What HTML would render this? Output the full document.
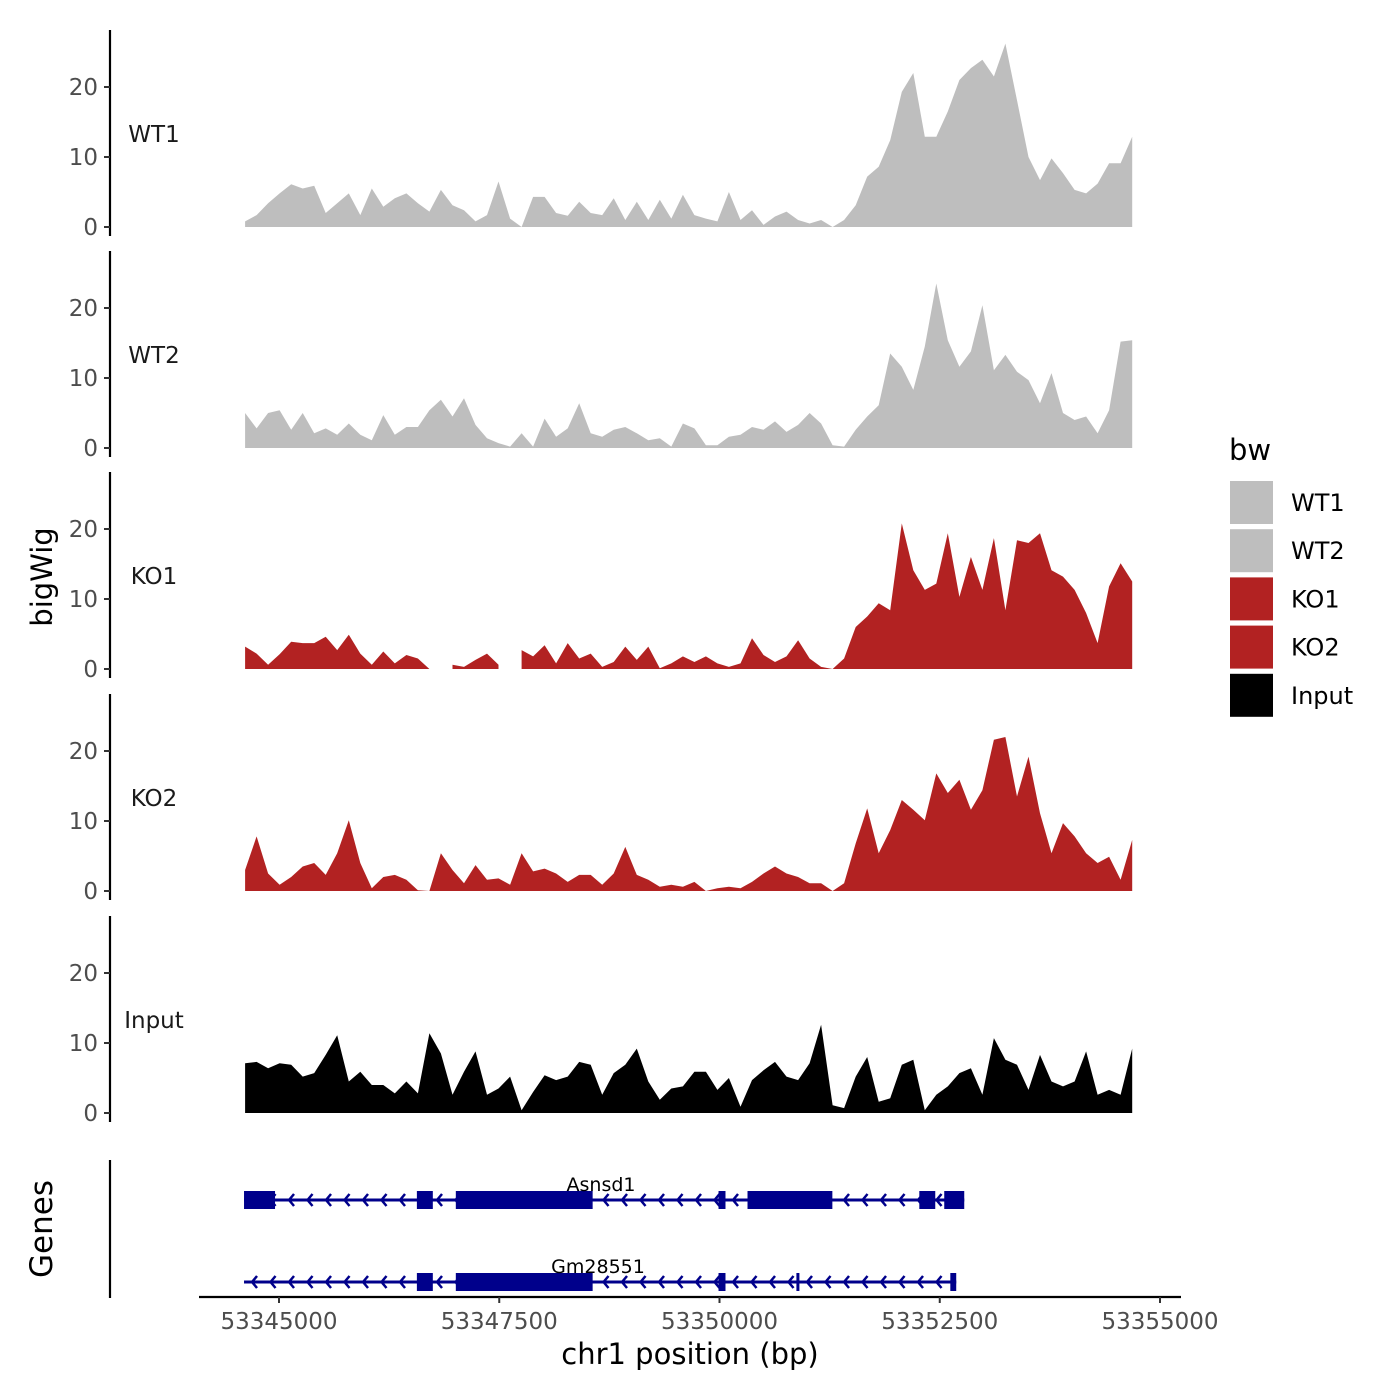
<!DOCTYPE html>
<html><head><meta charset="utf-8"><style>
body{margin:0;background:#fff;}
svg{display:block;font-family:"DejaVu Sans","Liberation Sans",sans-serif;}
</style></head><body>
<svg id="chart" width="1400" height="1400"></svg>
<script>
const trackNames=["WT1","WT2","KO1","KO2","Input"];
const trackColors=["#bebebe","#bebebe","#b22222","#b22222","#000000"];
const startBp=53344615, endBp=53354684;
const wt1=[0.8,1.7,3.4,4.8,6.1,5.5,5.9,2,3.4,4.8,1.7,5.5,2.9,4.1,4.8,3.4,2.2,5.3,3.1,2.4,0.8,1.7,6.5,1.2,0,4.3,4.3,2,1.6,3.6,2,1.7,4.1,1,3.6,1,3.9,1.2,4.6,1.7,1.2,0.8,5,1,2.4,0.3,1.5,2.2,1,0.5,1,0,1,3.1,7.2,8.6,12.4,19.3,22,12.9,12.9,16.5,21,22.7,23.9,21.5,26.2,18.1,10,6.7,9.8,7.7,5.3,4.8,6.2,9.1,9.1,12.9];
const wt2=[5,2.8,5,5.4,2.6,5,2.1,2.8,1.9,3.5,1.9,1.1,4.7,1.9,3,3,5.4,6.9,4.5,7.1,3.3,1.4,0.7,0.2,2.1,0.2,4.2,1.6,2.8,6.4,2.1,1.6,2.6,3,2.1,1.1,1.4,0.2,3.5,2.8,0.4,0.4,1.6,1.9,3,2.6,3.8,2.3,3.3,5,3.5,0.4,0.2,2.6,4.5,6.1,13.5,11.6,8.3,14.5,23.5,15.4,11.6,13.8,20.4,11.1,13.3,10.9,9.7,6.4,10.7,5,4,4.5,2.1,5.4,15.2,15.4];
const ko1=[3.2,2.2,0.6,2.1,3.9,3.7,3.7,4.6,2.7,4.9,2.2,0.6,2.5,0.8,2,1.5,0,null,0.6,0.3,1.3,2.2,0.6,null,2.7,1.8,3.4,0.8,3.7,1.5,2.2,0.3,1,3.2,1.3,3.2,0.1,0.8,1.8,1,1.8,0.8,0.3,0.8,4.4,2,1,1.8,4.1,1.5,0.3,0,1.5,6,7.5,9.4,8.4,20.8,14.1,11.3,12.2,19.4,10.3,16,11.3,18.7,8.4,18.4,18,19.4,14.1,13.2,11.3,8,3.7,11.8,15.1,12.5];
const ko2=[3,7.8,2.5,0.9,2,3.5,4,2.3,5.4,10.1,4,0.4,2,2.3,1.6,0.1,0,5.4,3,1.1,3.7,1.6,1.8,0.9,5.4,2.8,3.2,2.5,1.3,2.3,2.3,0.9,2.5,6.3,2.3,1.6,0.6,0.9,0.6,1.3,0,0.4,0.6,0.4,1.3,2.5,3.5,2.5,2,1.1,1.1,0,1.1,6.8,11.8,5.4,8.7,13,11.6,10.1,16.8,14,15.9,11.6,14.4,21.6,22,13.5,19.2,11.1,5.4,9.7,7.8,5.4,4,4.9,1.6,7.3];
const input=[7.1,7.3,6.4,7.1,6.9,5.2,5.7,8.3,11.1,4.5,5.9,4,4,2.8,4.5,2.8,11.4,8.5,2.6,5.9,8.8,2.6,3.5,5.2,0.4,3,5.4,4.7,5.2,7.3,6.9,2.6,5.7,6.9,9.2,4.5,1.9,3.5,3.8,5.9,5.9,3.3,5,0.9,4.7,6.1,7.3,5.2,4.7,7.1,12.6,1.1,0.7,5.2,8,1.6,2.1,6.9,7.6,0.4,2.6,3.8,5.7,6.4,2.6,10.7,7.6,6.9,3.3,8.3,4.5,3.8,4.5,8.8,2.6,3.3,2.6,9.2];
const series=[wt1,wt2,ko1,ko2,input];
const yTicks=[0,10,20];
const xTicks=[53345000,53347500,53350000,53352500,53355000];
const geneNames=["Asnsd1","Gm28551"];
const geneSpans=[[53344603,53352778],[53344603,53352687]];
const asnsd1Exons=[[53344603,53344955],[53346565,53346746],[53347007,53348560],[53349989,53350068],[53350318,53351281],[53350873,53350907],[53352268,53352449],[53352551,53352778]];
const gm28551Exons=[[53346565,53346746],[53347007,53348560],[53349989,53350068],[53350873,53350907],[53352620,53352687]];
const geneExons=[asnsd1Exons,gm28551Exons];

const NS="http://www.w3.org/2000/svg";
const svg=document.getElementById("chart");
function mk(tag,attrs,parent){const e=document.createElementNS(NS,tag);for(const k in attrs)e.setAttribute(k,attrs[k]);(parent||svg).appendChild(e);return e;}
const xs=bp=>279+(bp-53345000)*(881/10000);
const panelZero=[227,448,669,891,1113];
const ys=(p,v)=>panelZero[p]-v*7;
const step=(endBp-startBp)/(wt1.length-1);

for(let p=0;p<5;p++){
  const g=mk("g",{});
  
  
  const z=panelZero[p];
  const ax=mk("line",{x1:110,x2:110,y1:z-197,y2:z+9,stroke:"#000","stroke-width":2.2},g);
  
  
  yTicks.forEach(t=>{
    mk("line",{x1:104,x2:110,y1:ys(p,t),y2:ys(p,t),stroke:"#333","stroke-width":2},g);
    const tx=mk("text",{x:98,y:ys(p,t)+8,"text-anchor":"end","font-size":23,fill:"#4d4d4d"},g);
    tx.textContent=t;
    
    
  });
  const lb=mk("text",{x:154,y:z-85,"text-anchor":"middle","font-size":23,fill:"#1a1a1a"},g);
  lb.textContent=trackNames[p];
  
  
  const vals=series[p];
  let seg=[];
  const flush=()=>{
    if(seg.length>1){
      let d="M"+xs(seg[0][0]).toFixed(1)+","+z;
      seg.forEach(s=>{d+="L"+xs(s[0]).toFixed(1)+","+ys(p,s[1]).toFixed(1);});
      d+="L"+xs(seg[seg.length-1][0]).toFixed(1)+","+z+"Z";
      const a=mk("path",{d:d,fill:trackColors[p]},g);
      
      
    }
    seg=[];
  };
  vals.forEach((v,i)=>{if(v===null)flush();else seg.push([startBp+i*step,v]);});
  flush();
}

const gg=mk("g",{});


mk("line",{x1:110,x2:110,y1:1160,y2:1298,stroke:"#000","stroke-width":2.2},gg);
const geneY=[1200,1282];
geneNames.forEach((n,gi)=>{
  const y=geneY[gi];
  const s=geneSpans[gi];
  const gl=mk("line",{x1:xs(s[0]),x2:xs(s[1]),y1:y,y2:y,stroke:"#00008b","stroke-width":3},gg);
  
  
  for(let x=xs(s[0])+8;x<xs(s[1])-4;x+=18.5){
    mk("polyline",{points:(x+5)+","+(y-6)+" "+x+","+y+" "+(x+5)+","+(y+6),fill:"none",stroke:"#00008b","stroke-width":2.5},gg);
  }
  geneExons[gi].forEach(e=>{
    const r=mk("rect",{x:xs(e[0]),y:y-9,width:Math.max(3,xs(e[1])-xs(e[0])),height:18,fill:"#00008b"},gg);
    
    
  });
  const t=mk("text",{x:gi===0?601:598,y:y-9,"text-anchor":"middle","font-size":19,fill:"#000"},gg);
  t.textContent=n;
  
  
});

const xa=mk("line",{x1:199,x2:1181,y1:1297,y2:1297,stroke:"#000","stroke-width":2.2});


xTicks.forEach(t=>{
  mk("line",{x1:xs(t),x2:xs(t),y1:1297,y2:1303,stroke:"#333","stroke-width":2});
  const tx=mk("text",{x:xs(t),y:1329,"text-anchor":"middle","font-size":23,fill:"#4d4d4d"});
  tx.textContent=t;
  
  
});
const xt=mk("text",{x:690,y:1364,"text-anchor":"middle","font-size":29,fill:"#000"});
xt.textContent="chr1 position (bp)";


const yt=mk("text",{x:0,y:0,"text-anchor":"middle","font-size":29,fill:"#000",transform:"translate(52,577) rotate(-90)"});
yt.textContent="bigWig";


const gt=mk("text",{x:0,y:0,"text-anchor":"middle","font-size":31,fill:"#000",transform:"translate(52,1229) rotate(-90)"});
gt.textContent="Genes";



const lg=mk("g",{});


const lt=mk("text",{x:1229,y:460,"font-size":29,fill:"#000"},lg);
lt.textContent="bw";


trackNames.forEach((n,i)=>{
  const y=481+i*48.2;
  const r=mk("rect",{x:1230,y:y,width:43,height:43,fill:trackColors[i]},lg);
  
  
  const t=mk("text",{x:1291,y:y+30,"font-size":24,fill:"#000"},lg);
  t.textContent=n;
  
  
});
</script>
</body></html>
